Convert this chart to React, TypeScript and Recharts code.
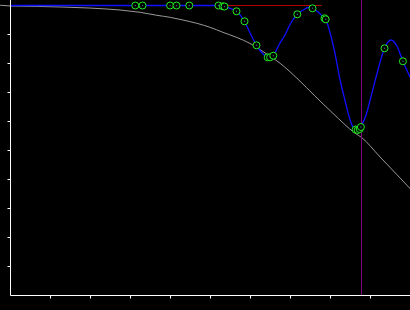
import React from 'react';
import { ComposedChart, Line, Scatter, XAxis, YAxis, ReferenceLine } from 'recharts';

// x: normalized frequency (0..1), y: magnitude in dB
const xTicks = [0.1, 0.2, 0.3, 0.4, 0.5, 0.6, 0.7, 0.8, 0.9];
const yTicks = [-10, -20, -30, -40, -50, -60, -70, -80, -90];

// first point lies just left of the y axis
const grayCurve = [
  { x: -0.026, y: 0.1 },
  { x: 0, y: -0.17 },
  { x: 0.129, y: -0.52 },
  { x: 0.196, y: -0.86 },
  { x: 0.241, y: -1.21 },
  { x: 0.274, y: -1.55 },
  { x: 0.301, y: -1.97 },
  { x: 0.324, y: -2.34 },
  { x: 0.344, y: -2.83 },
  { x: 0.366, y: -3.38 },
  { x: 0.399, y: -4.07 },
  { x: 0.431, y: -5.0 },
  { x: 0.466, y: -6.14 },
  { x: 0.499, y: -7.52 },
  { x: 0.531, y: -9.24 },
  { x: 0.566, y: -11.03 },
  { x: 0.599, y: -13.1 },
  { x: 0.631, y: -15.86 },
  { x: 0.674, y: -19.93 },
  { x: 0.719, y: -25.45 },
  { x: 0.761, y: -31.2 },
  { x: 0.806, y: -37.17 },
  { x: 0.861, y: -43.97 },
  { x: 0.8775, y: -45.5 },
  { x: 0.924, y: -52.24 },
  { x: 0.974, y: -59.48 },
  { x: 1.0, y: -63.28 },
];

const blueCurve = [
  { x: 0, y: 0 },
  { x: 0.52, y: 0 },
  { x: 0.531, y: -0.28 },
  { x: 0.535, y: -0.34 },
  { x: 0.549, y: -0.97 },
  { x: 0.565, y: -2.0 },
  { x: 0.585, y: -5.45 },
  { x: 0.599, y: -9.5 },
  { x: 0.615, y: -13.72 },
  { x: 0.629, y: -16.4 },
  { x: 0.643, y: -17.86 },
  { x: 0.649, y: -18.0 },
  { x: 0.657, y: -17.31 },
  { x: 0.671, y: -13.6 },
  { x: 0.686, y: -10.17 },
  { x: 0.701, y: -6.03 },
  { x: 0.717, y: -3.03 },
  { x: 0.734, y: -1.38 },
  { x: 0.744, y: -0.69 },
  { x: 0.755, y: -0.97 },
  { x: 0.769, y: -2.24 },
  { x: 0.785, y: -4.41 },
  { x: 0.788, y: -4.76 },
  { x: 0.799, y: -9.48 },
  { x: 0.811, y: -16.38 },
  { x: 0.824, y: -25.69 },
  { x: 0.836, y: -32.59 },
  { x: 0.849, y: -39.48 },
  { x: 0.856, y: -41.9 },
  { x: 0.863, y: -42.76 },
  { x: 0.868, y: -42.93 },
  { x: 0.873, y: -42.76 },
  { x: 0.876, y: -41.9 },
  { x: 0.889, y: -37.76 },
  { x: 0.901, y: -31.55 },
  { x: 0.916, y: -23.62 },
  { x: 0.935, y: -14.76 },
  { x: 0.951, y: -11.9 },
  { x: 0.966, y: -13.97 },
  { x: 0.981, y: -19.24 },
  { x: 1.0, y: -25.0 },
];

const markers = [
  { x: 0.312, y: 0 },
  { x: 0.33, y: 0 },
  { x: 0.399, y: 0 },
  { x: 0.415, y: 0 },
  { x: 0.447, y: 0 },
  { x: 0.52, y: 0 },
  { x: 0.531, y: -0.28 },
  { x: 0.535, y: -0.34 },
  { x: 0.565, y: -2.0 },
  { x: 0.585, y: -5.45 },
  { x: 0.615, y: -13.72 },
  { x: 0.643, y: -17.86 },
  { x: 0.649, y: -17.86 },
  { x: 0.657, y: -17.31 },
  { x: 0.717, y: -3.03 },
  { x: 0.755, y: -0.97 },
  { x: 0.785, y: -4.41 },
  { x: 0.788, y: -4.76 },
  { x: 0.863, y: -42.76 },
  { x: 0.868, y: -42.93 },
  { x: 0.873, y: -42.59 },
  { x: 0.876, y: -41.9 },
  { x: 0.935, y: -14.76 },
  { x: 0.981, y: -19.24 },
];

const redLine = [
  { x: 0, y: 0 },
  { x: 0.778, y: 0 },
];

const cutoffX = 0.8775;

const MarkerShape = (props: any) => {
  const { cx, cy } = props;
  if (cx == null || cy == null) return null;
  return (
    <g>
      <circle cx={cx} cy={cy} r={3.5} fill="#000" stroke="#22ee22" strokeWidth={1} />
      <circle cx={cx} cy={cy} r={0.7} fill="#2a7a6a" />
    </g>
  );
};

const EmptyTick = () => <g />;

export default function App() {
  return (
    <div
      style={{
        position: 'absolute',
        left: 0,
        top: 0,
        width: 410,
        height: 310,
        background: '#000',
        overflow: 'hidden',
      }}
    >
      <ComposedChart width={410.5} height={310} margin={{ top: 0, right: 0, bottom: 0, left: 0 }}>
        <XAxis
          type="number"
          dataKey="x"
          domain={[0, 1]}
          ticks={xTicks}
          tick={EmptyTick}
          tickSize={3}
          height={14.5}
          allowDataOverflow
          axisLine={{ stroke: '#fff', strokeWidth: 1 }}
          tickLine={{ stroke: '#fff', strokeWidth: 1 }}
        />
        <YAxis
          type="number"
          dataKey="y"
          domain={[-100, 1.9]}
          ticks={yTicks}
          tick={EmptyTick}
          tickSize={3}
          width={10.5}
          allowDataOverflow
          axisLine={{ stroke: '#fff', strokeWidth: 1 }}
          tickLine={{ stroke: '#fff', strokeWidth: 1 }}
        />
        <ReferenceLine
          segment={[grayCurve[0], grayCurve[1]]}
          stroke="#999"
          strokeWidth={1}
          ifOverflow="visible"
        />
        <Line
          data={grayCurve.slice(1)}
          dataKey="y"
          type="monotone"
          stroke="#999"
          strokeWidth={1}
          dot={false}
          activeDot={false}
          isAnimationActive={false}
        />
        <Line
          data={redLine}
          dataKey="y"
          type="linear"
          stroke="#b00000"
          strokeWidth={1}
          dot={false}
          activeDot={false}
          isAnimationActive={false}
        />
        <ReferenceLine x={cutoffX} stroke="#800080" strokeWidth={1} />
        <Line
          data={blueCurve}
          dataKey="y"
          type="monotone"
          stroke="#1010ff"
          strokeWidth={1.3}
          dot={false}
          activeDot={false}
          isAnimationActive={false}
        />
        <Scatter data={markers} dataKey="y" shape={MarkerShape} isAnimationActive={false} />
      </ComposedChart>
    </div>
  );
}
